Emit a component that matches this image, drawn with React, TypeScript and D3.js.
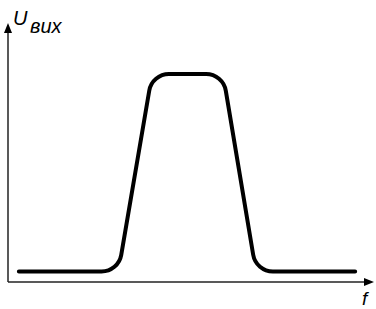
import React from 'react'
import * as d3 from 'd3'

// frequency (arbitrary units, 0..100) at the corners of the response
const freq = [3, 30.5, 39.8, 59.4, 68.5, 95.9]
// output voltage (arbitrary units, 0..100)
const uOut = [3.9, 3.9, 77, 77, 3.9, 3.9]

const yLabel = 'U'
const yLabelSub = 'вих'
const xLabel = 'f'

const W = 376
const H = 309
const cornerR = 20

const App = () => {
    const x = d3.scaleLinear().domain([0, 100]).range([8, 370])
    const y = d3.scaleLinear().domain([0, 100]).range([282, 12])

    const verts = freq.map((f, i) => [x(f), y(uOut[i])] as [number, number])

    // straight edges, rounded corners
    const p = d3.path()
    p.moveTo(verts[0][0], verts[0][1])
    for (let i = 1; i < verts.length - 1; i++) {
        p.arcTo(verts[i][0], verts[i][1], verts[i + 1][0], verts[i + 1][1], cornerR)
    }
    const last = verts[verts.length - 1]
    p.lineTo(last[0], last[1])

    const x0 = x(0)
    const y0 = y(0)
    const yTip = 23
    const xTip = 374
    const font = 'Liberation Sans, Arial, sans-serif'

    return (
        <svg width={W} height={H} style={{ position: 'absolute', left: 0, top: 0 }}>
            <line x1={x0} y1={y0} x2={x0} y2={yTip + 6} stroke="#222" strokeWidth={1.5} />
            <path d={`M${x0},${yTip} L${x0 - 4},${yTip + 10} L${x0 + 4},${yTip + 10} Z`} fill="#000" />
            <line x1={x0} y1={y0} x2={xTip - 6} y2={y0} stroke="#222" strokeWidth={1.5} />
            <path d={`M${xTip},${y0} L${xTip - 10},${y0 - 4} L${xTip - 10},${y0 + 4} Z`} fill="#000" />

            <path d={p.toString()} fill="none" stroke="#000" strokeWidth={4} strokeLinecap="round" strokeLinejoin="round" />

            <text x={13} y={25} fontFamily={font} fontStyle="italic" fontSize={20}>{yLabel}</text>
            <text x={30} y={33} fontFamily={font} fontStyle="italic" fontSize={20}>{yLabelSub}</text>
            <text x={362} y={305} fontFamily={font} fontStyle="italic" fontSize={19}>{xLabel}</text>
        </svg>
    )
}

export default App
